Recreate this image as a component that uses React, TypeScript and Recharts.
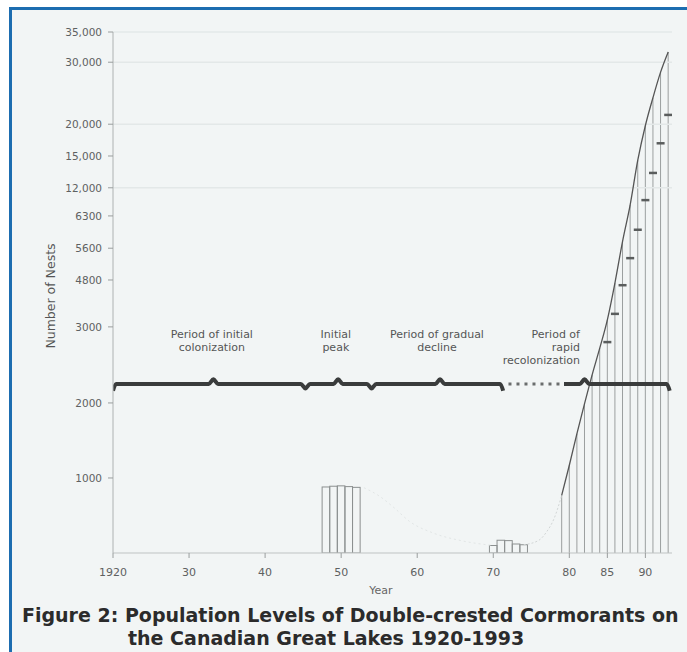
import React from 'react';
import { ComposedChart, XAxis, YAxis, Line, Bar, ReferenceLine, ReferenceDot } from 'recharts';

// ---------- axes ----------
const xTicks = [1920, 1930, 1940, 1950, 1960, 1970, 1980, 1985, 1990];
const xTickLabels = ['1920', '30', '40', '50', '60', '70', '80', '85', '90'];

const yTicks = [1000, 2000, 3000, 4800, 5600, 6300, 12000, 15000, 20000, 30000, 35000];
const yTickLabels = ['1000', '2000', '3000', '4800', '5600', '6300', '12,000', '15,000', '20,000', '30,000', '35,000'];
// the original axis is hand-drawn and uneven: share of the axis height at each knot value
const yKnotValues = [0, 1000, 2000, 3000, 4800, 5600, 6300, 12000, 15000, 20000, 30000, 35000];
const yKnotShares = [0, 0.144, 0.288, 0.434, 0.524, 0.585, 0.647, 0.701, 0.762, 0.823, 0.942, 1];
const gridValues = [12000, 20000, 30000, 35000];

// ---------- data ----------
const peakYears = [1948, 1949, 1950, 1951, 1952];
const peakNests = [880, 890, 895, 885, 875];

const lowYears = [1970, 1971, 1972, 1973, 1974];
const lowNests = [100, 170, 165, 120, 110];

const recolYears = [1979, 1980, 1981, 1982, 1983, 1984, 1985, 1986, 1987, 1988, 1989, 1990, 1991, 1992, 1993];
const recolNests = [770, 1170, 1590, 1990, 2370, 2720, 3270, 4690, 5750, 8540, 14600, 19800, 24300, 28400, 31700];

const countYears = [1985, 1986, 1987, 1988, 1989, 1990, 1991, 1992, 1993];
const countNests = [2800, 3500, 4600, 5350, 6000, 9500, 13400, 17000, 21500];

const declineYears = [1953, 1955, 1957, 1959, 1962, 1966, 1970];
const declineNests = [870, 760, 600, 420, 270, 160, 100];
const riseYears = [1974, 1976, 1977, 1978, 1979];
const riseNests = [110, 170, 280, 460, 770];

// period brace (timeline) drawn across the chart
const braceAYears = [1920, 1920.4, 1932.6, 1933.2, 1933.8, 1944.7, 1945.3, 1945.9, 1949.0, 1949.6, 1950.2, 1953.4, 1954, 1954.6, 1962.4, 1963, 1963.6, 1970.9, 1971.3];
const braceAValues = [2160, 2250, 2250, 2310, 2250, 2250, 2190, 2250, 2250, 2310, 2250, 2250, 2190, 2250, 2250, 2310, 2250, 2250, 2160];
const braceGapYears = [1972, 1979.2];
const braceGapValues = [2250, 2250];
const braceBYears = [1979.3, 1981.4, 1982, 1982.6, 1992.8, 1993.2];
const braceBValues = [2250, 2250, 2310, 2250, 2250, 2160];

const periods = [
  { year: 1933, nests: 2900, lines: ['Period of initial', 'colonization'], anchor: 'middle' },
  { year: 1949.3, nests: 2900, lines: ['Initial', 'peak'], anchor: 'middle' },
  { year: 1962.6, nests: 2900, lines: ['Period of gradual', 'decline'], anchor: 'middle' },
  { year: 1981.4, nests: 2900, lines: ['Period of', 'rapid', 'recolonization'], anchor: 'end' },
];

// ---------- tables ----------
const barRows = [
  ...peakYears.map((y, i) => ({ year: y, nests: peakNests[i], kind: 'box' })),
  ...lowYears.map((y, i) => ({ year: y, nests: lowNests[i], kind: 'box' })),
  ...recolYears.map((y, i) => ({ year: y, nests: recolNests[i], kind: 'drop' })),
];
const pairs = (xs: number[], vs: number[]) => xs.map((x, i) => ({ year: x, v: vs[i] }));
const curveRows = pairs(recolYears, recolNests);
const countRows = pairs(countYears, countNests);
const declineRows = pairs(declineYears, declineNests);
const riseRows = pairs(riseYears, riseNests);
const braceARows = pairs(braceAYears, braceAValues);
const braceGapRows = pairs(braceGapYears, braceGapValues);
const braceBRows = pairs(braceBYears, braceBValues);

// ---------- uneven y scale ----------
function knotShare(v: number) {
  const n = yKnotValues.length;
  if (v <= yKnotValues[0]) return yKnotShares[0];
  for (let i = 1; i < n; i++) {
    if (v <= yKnotValues[i]) {
      const t = (v - yKnotValues[i - 1]) / (yKnotValues[i] - yKnotValues[i - 1]);
      return yKnotShares[i - 1] + t * (yKnotShares[i] - yKnotShares[i - 1]);
    }
  }
  const t = (v - yKnotValues[n - 2]) / (yKnotValues[n - 1] - yKnotValues[n - 2]);
  return yKnotShares[n - 2] + t * (yKnotShares[n - 1] - yKnotShares[n - 2]);
}
function makeNestScale(dom: any[] = [0, 35000], rng: number[] = [0, 1]): any {
  let d = dom.slice();
  let r = rng.slice();
  const s: any = (v: any) => r[0] + knotShare(Number(v)) * (r[1] - r[0]);
  s.domain = (x?: any) => { if (x === undefined) return d.slice(); d = Array.from(x); return s; };
  s.range = (x?: any) => { if (x === undefined) return r.slice(); r = Array.from(x).map(Number); return s; };
  s.copy = () => makeNestScale(d, r);
  s.ticks = () => yTicks.slice();
  s.tickFormat = () => (v: any) => String(v);
  s.invert = (px: number) => {
    const f = (px - r[0]) / (r[1] - r[0]);
    for (let i = 1; i < yKnotShares.length; i++) {
      if (f <= yKnotShares[i]) {
        const t = (f - yKnotShares[i - 1]) / (yKnotShares[i] - yKnotShares[i - 1]);
        return yKnotValues[i - 1] + t * (yKnotValues[i] - yKnotValues[i - 1]);
      }
    }
    return yKnotValues[yKnotValues.length - 1];
  };
  s.clamp = () => s;
  s.nice = () => s;
  return s;
}
const nestScale = makeNestScale();

const FONT = '"DejaVu Sans", "Liberation Sans", Arial, sans-serif';
const BOX_W = 7.6;

const NestBar = (props: any) => {
  const { x, y, width, height, payload } = props;
  if (x == null || y == null || !isFinite(y) || !isFinite(height)) return null;
  const cx = x + (width || 0) / 2;
  if (payload && payload.kind === 'drop') {
    return <line x1={cx} x2={cx} y1={y} y2={y + height} stroke="#9b9f9f" strokeWidth={1} />;
  }
  return <rect x={cx - BOX_W / 2} y={y} width={BOX_W} height={height} fill="none" stroke="#8c9090" strokeWidth={1} />;
};

const DashDot = (props: any) => {
  const { cx, cy } = props;
  if (cx == null || cy == null) return null;
  return <line x1={cx - 4} x2={cx + 4} y1={cy} y2={cy} stroke="#5a5d5d" strokeWidth={2.5} />;
};

const periodLabel = (p: any) => (lp: any) => {
  const vb = lp.viewBox || {};
  const x = (vb.x || 0) + (vb.width || 0) / 2;
  const y = (vb.y || 0) + (vb.height || 0) / 2;
  return (
    <text x={x} y={y} textAnchor={p.anchor} fontFamily={FONT} fontSize={11} fill="#555">
      {p.lines.map((l: string, i: number) => (
        <tspan key={i} x={x} dy={i === 0 ? 4 : 13}>{l}</tspan>
      ))}
    </text>
  );
};

export default function App() {
  return (
    <div style={{ position: 'absolute', left: 0, top: 0, width: 687, height: 652, overflow: 'hidden', background: '#ffffff' }}>
      <div style={{ position: 'absolute', left: 9, top: 7, width: 678, height: 645, background: '#f2f5f5', borderLeft: '3px solid #1d6db0', borderTop: '3px solid #1d6db0', boxSizing: 'border-box' }} />
      <div style={{ position: 'absolute', left: 0, top: 0 }}>
        <ComposedChart width={687} height={652} data={barRows} margin={{ top: 32, right: 15, bottom: 69, left: 53 }}>
          <XAxis
            dataKey="year"
            type="number"
            domain={[1920, 1993.5]}
            allowDataOverflow
            ticks={xTicks}
            interval={0}
            tickFormatter={(v: number) => xTickLabels[xTicks.indexOf(v)] ?? ''}
            height={30}
            axisLine={{ stroke: '#bfc3c3' }}
            tickLine={{ stroke: '#9a9e9e' }}
            tickSize={5}
            tickMargin={10}
            tick={{ fontSize: 11, fill: '#5e6161', fontFamily: FONT }}
          />
          <YAxis
            type="number"
            scale={nestScale}
            domain={[0, 35000]}
            allowDataOverflow
            ticks={yTicks}
            interval={0}
            tickFormatter={(v: number) => yTickLabels[yTicks.indexOf(v)] ?? ''}
            width={60}
            axisLine={{ stroke: '#aeb2b2' }}
            tickLine={{ stroke: '#9a9e9e' }}
            tickSize={5}
            tickMargin={6}
            tick={{ fontSize: 10.5, fill: '#5e6161', fontFamily: FONT }}
          />
          {gridValues.map((g) => (
            <ReferenceLine key={g} y={g} stroke="#e3e8e8" strokeWidth={1.5} />
          ))}
          <Bar dataKey="nests" barSize={8} shape={NestBar} isAnimationActive={false} />
          <Line data={declineRows} dataKey="v" type="monotone" stroke="#e2e6e6" strokeWidth={1} strokeDasharray="2 3" dot={false} isAnimationActive={false} />
          <Line data={riseRows} dataKey="v" type="monotone" stroke="#d2d6d6" strokeWidth={1} strokeDasharray="2 2" dot={false} isAnimationActive={false} />
          <Line data={curveRows} dataKey="v" type="monotone" stroke="#555" strokeWidth={1.3} dot={false} isAnimationActive={false} />
          <Line data={countRows} dataKey="v" stroke="none" dot={<DashDot />} isAnimationActive={false} />
          <Line data={braceARows} dataKey="v" type="monotone" stroke="#3a3c3c" strokeWidth={4} dot={false} isAnimationActive={false} />
          <Line data={braceGapRows} dataKey="v" type="linear" stroke="#6a6d6d" strokeWidth={3} strokeDasharray="3 5" dot={false} isAnimationActive={false} />
          <Line data={braceBRows} dataKey="v" type="monotone" stroke="#3a3c3c" strokeWidth={4} dot={false} isAnimationActive={false} />
          {periods.map((p, i) => (
            <ReferenceDot key={i} x={p.year} y={p.nests} r={0} fill="none" stroke="none" label={periodLabel(p)} />
          ))}
        </ComposedChart>
      </div>
      <svg width={687} height={652} style={{ position: 'absolute', left: 0, top: 0, pointerEvents: 'none' }}>
        <text transform="translate(50,296) rotate(-90)" textAnchor="middle" dominantBaseline="central" fontFamily={FONT} fontSize={12.5} fill="#555">Number of Nests</text>
        <text x={381} y={594} textAnchor="middle" fontFamily={FONT} fontSize={11} fill="#666">Year</text>
        <text x={22} y={622} fontFamily={FONT} fontWeight="bold" fontSize={19} fill="#2b2b2b">Figure 2: Population Levels of Double-crested Cormorants on</text>
        <text x={128} y={645} fontFamily={FONT} fontWeight="bold" fontSize={19} fill="#2b2b2b">the Canadian Great Lakes 1920-1993</text>
      </svg>
    </div>
  );
}
